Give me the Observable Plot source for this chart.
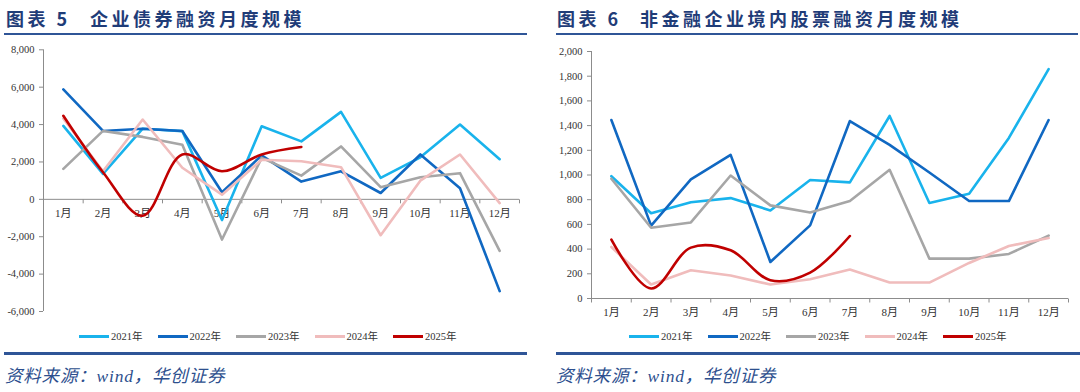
<!DOCTYPE html>
<html><head><meta charset="utf-8">
<script src="https://cdn.jsdelivr.net/npm/d3@7"></script>
<script src="https://cdn.jsdelivr.net/npm/@observablehq/plot@0.6"></script>
<style>
body{margin:0;width:1080px;height:392px;background:#fff;position:relative;overflow:hidden;font-family:"Liberation Serif","Noto Sans CJK SC",serif}
.title{position:absolute;top:5px;font-family:"Noto Sans CJK SC",sans-serif;font-weight:bold;font-size:18px;color:#1f3c78;white-space:nowrap;letter-spacing:3.5px;line-height:26px}
.rule{position:absolute;height:2px;background:#2f5597}
.chart{position:absolute;top:40px}
.leg{position:absolute;top:330px;height:14px;font-size:10.5px;color:#333;white-space:nowrap;line-height:14px}
.leg span.sw{display:inline-block;width:30px;height:2.5px;vertical-align:middle;margin-right:2px;position:relative;top:-1px}
.src{position:absolute;top:362px;font-style:italic;font-size:17.5px;letter-spacing:0.8px;color:#2d4f8e;white-space:nowrap;font-family:"Liberation Serif","Noto Sans CJK SC",serif}
</style></head>
<body>
<div class="title" style="left:6px">图表 5</div>
<div class="title" style="left:90px">企业债券融资月度规模</div>
<div class="rule" style="left:4px;width:523px;top:33px"></div>
<div class="title" style="left:557px">图表 6</div>
<div class="title" style="left:640px">非金融企业境内股票融资月度规模</div>
<div class="rule" style="left:556px;width:522px;top:33px"></div>
<div id="c1" class="chart" style="left:0px"></div>
<div id="c2" class="chart" style="left:540px"></div>
<div id="l1"></div><div id="l2"></div>
<div class="rule" style="left:4px;width:523px;top:352px;height:2.5px"></div>
<div class="rule" style="left:556px;width:524px;top:352px;height:2.5px"></div>
<div class="src" style="left:5px">资料来源：wind，华创证券</div>
<div class="src" style="left:556px">资料来源：wind，华创证券</div>
<script>
const months = [1,2,3,4,5,6,7,8,9,10,11,12];
const monthLabels = ["1月","2月","3月","4月","5月","6月","7月","8月","9月","10月","11月","12月"];
const years = ["2021年","2022年","2023年","2024年","2025年"];
const colors = ["#19b3ec","#1068c2","#a6a6a6","#f0bcbc","#c00000"];

// 图表5 企业债券融资月度规模
const bond2021 = [3930,1360,3780,3650,-1110,3910,3100,4680,1150,2250,4000,2150];
const bond2022 = [5880,3660,3780,3660,380,2350,950,1500,340,2400,590,-4910];
const bond2023 = [1630,3660,3340,2920,-2150,2220,1270,2830,650,1180,1400,-2760];
const bond2024 = [4320,1500,4270,1690,250,2120,2040,1720,-1920,1000,2400,-200];
const bond2025 = [4470,1450,-880,2400,1500,2400,2800];
const bondTicks = [-6000,-4000,-2000,0,2000,4000,6000,8000];

// 图表6 非金融企业境内股票融资月度规模
const eq2021 = [990,690,780,813,713,960,940,1478,773,848,1300,1857];
const eq2022 = [1445,590,964,1163,296,592,1437,1244,1020,789,789,1445];
const eq2023 = [970,573,616,996,754,697,789,1042,323,323,361,509];
const eq2024 = [417,113,229,186,113,156,234,129,129,288,425,490];
const eq2025 = [476,81,412,390,148,210,506];
const eqTicks = [0,200,400,600,800,1000,1200,1400,1600,1800,2000];

const bounds = [0.5,1.5,2.5,3.5,4.5,5.5,6.5,7.5,8.5,9.5,10.5,11.5,12.5];
const tickSym = {draw(ctx){ctx.moveTo(0,0);ctx.lineTo(0,4);}};
const fmt = d => d.toLocaleString("en-US");

function makeChart(series, yDomain, yTicks, m) {
  const marks = [
    Plot.ruleX([0.5], {stroke:"#8c8c8c", strokeWidth:1}),
    Plot.ruleY([0], {stroke:"#8c8c8c", strokeWidth:1}),
    Plot.dot(bounds, {x:d=>d, y:()=>0, symbol:tickSym, stroke:"#8c8c8c", fill:"none", strokeWidth:1}),
    Plot.axisY({ticks:yTicks, tickSize:4, tickPadding:5, tickFormat:fmt, stroke:"#8c8c8c", fill:"#333", fontSize:10.5, label:null}),
    Plot.text(months, {x:d=>d, y:()=>0, text:(d,i)=>monthLabels[i], dy:14, fill:"#333", fontSize:11})
  ];
  series.forEach((vals, k) => {
    const rows = vals.map((v,i)=>({month:months[i], value:v, year:years[k]}));
    marks.push(Plot.line(rows, {x:"month", y:"value", stroke:colors[k], strokeWidth:2.6,
      curve: k===4 ? "catmull-rom" : "linear"}));
  });
  return Plot.plot({
    width:540, height:280,
    marginTop:m[0], marginRight:m[1], marginBottom:m[2], marginLeft:m[3],
    x:{domain:[0.5,12.5], axis:null},
    y:{domain:yDomain, axis:null, label:null},
    style:{fontFamily:'"Liberation Serif","Noto Sans CJK SC",serif', fontSize:"10.5px", overflow:"visible", background:"transparent"},
    marks
  });
}

document.getElementById("c1").appendChild(
  makeChart([bond2021,bond2022,bond2023,bond2024,bond2025],[-6000,8000],bondTicks,[9.3,21,9,43]));
document.getElementById("c2").appendChild(
  makeChart([eq2021,eq2022,eq2023,eq2024,eq2025],[0,2000],eqTicks,[11,12,22,51]));

function legend(id, start) {
  const el = document.getElementById(id);
  years.forEach((y,k)=>{
    const d = document.createElement("div");
    d.className = "leg";
    d.style.left = (start + k*78.5) + "px";
    d.innerHTML = `<span class="sw" style="background:${colors[k]}"></span>${y}`;
    el.appendChild(d);
  });
}
legend("l1", 79);
legend("l2", 629);
</script>
</body></html>
